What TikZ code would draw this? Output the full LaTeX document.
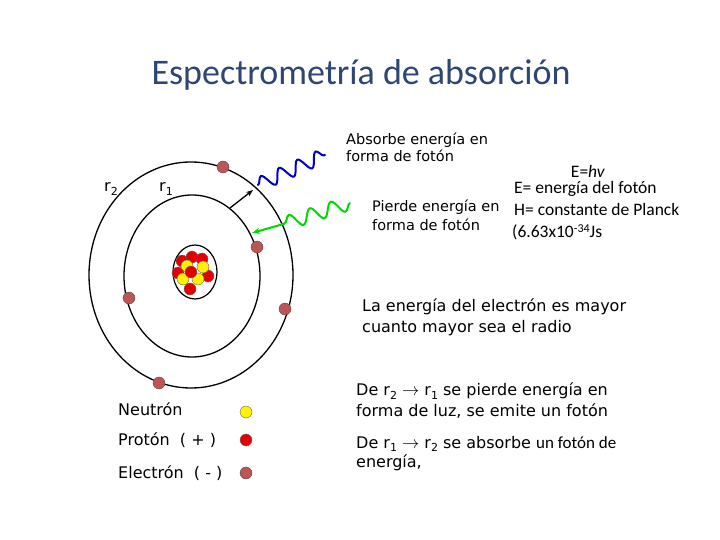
\documentclass[tikz,border=0pt]{standalone}
\usepackage{fontspec}
\setmainfont{Carlito}
\newfontfamily\comic{DejaVu Sans}
\usetikzlibrary{decorations.pathmorphing,arrows.meta}
\newcommand{\subs}[1]{\raisebox{-0.4ex}{\fontsize{11}{12}\selectfont #1}}
\begin{document}
\begin{tikzpicture}[x=1pt,y=-1pt,
  orb/.style={line width=1.3pt},
  elec/.style={circle,draw=black!70,fill={rgb,255:red,190;green,85;blue,85},minimum size=12pt,inner sep=0pt},
  prot/.style={circle,draw=black!60,fill=red!90!black,minimum size=12pt,inner sep=0pt},
  neut/.style={circle,draw=black!60,fill=yellow,minimum size=12pt,inner sep=0pt},
  ct/.style={font=\comic\fontsize{16}{18}\selectfont,anchor=west,inner sep=0pt},
  cal/.style={font=\fontsize{17.5}{20}\selectfont,anchor=west,inner sep=0pt}]
\useasboundingbox (0,0) rectangle (720,540);
\node[font=\fontsize{36}{42}\selectfont,text={rgb,255:red,45;green,70;blue,115}] (title) at (361,75) {Espectrometría de absorción};
% orbits
\draw[orb] (191,275) ellipse [x radius=102, y radius=113];
\draw[orb] (192,276) ellipse [x radius=68, y radius=81];
\draw[line width=1.2pt] (195,272) ellipse [x radius=22, y radius=27];
\node[prot] (p1) at (182,261) {};
\node[prot] (p2) at (202,259) {};
\node[prot] (p3) at (178,273) {};
\node[prot] (p5) at (208,276) {};
\node[prot] (p6) at (190,289) {};
\node[prot] (p7) at (192,257) {};
\node[neut] (n1) at (187,266) {};
\node[neut] (n2) at (203,267) {};
\node[neut] (n3) at (183,279) {};
\node[neut] (n4) at (198,279) {};
\node[prot] (p4) at (191,272) {};
% electrons
\node[elec] (e1) at (223,167) {};
\node[elec] (e2) at (257,247) {};
\node[elec] (e3) at (129,298) {};
\node[elec] (e4) at (285,309) {};
\node[elec] (e5) at (159,383) {};
\node[ct,anchor=center] (r2) at (111,189) {r\subs{2}};
\node[ct,anchor=center] (r1) at (166,189) {r\subs{1}};
% photons
\coordinate (bs) at (258,185); \coordinate (be) at (325,155);
\draw[blue!80!black,line width=2pt,line cap=round,decorate,decoration={snake,amplitude=7pt,segment length=20pt}] (bs) -- (be);
\coordinate (a1) at (230,208); \coordinate (a2) at (253,190);
\draw[line width=1.3pt,-{Stealth[length=7pt]}] (a1) -- (a2);
\coordinate (gs) at (350,203); \coordinate (ge) at (280,225); \coordinate (gt) at (252,233);
\draw[green!85!black,line width=2pt,line cap=round,decorate,decoration={snake,amplitude=7pt,segment length=22pt}] (gs) -- (ge);
\draw[green!85!black,line width=2pt,-{Stealth[length=8pt]}] (ge) -- (gt);
% texts
\node[ct,font=\comic\fontsize{14.5}{17}\selectfont,align=left,anchor=north west] (abs) at (346,133) {Absorbe energía en\\forma de fotón};
\node[cal,anchor=center] (eh) at (588,171) {E=\textit{hv}};
\node[cal] (t1) at (514,189) {E= energía del fotón};
\node[ct,font=\comic\fontsize{14.5}{19}\selectfont,align=left,anchor=north west] (pie) at (372,200) {Pierde energía en\\forma de fotón};
\node[cal] (t2) at (514,209) {H= constante de Planck};
\node[cal] (t3) at (512,232) {(6.63x10\raisebox{0.6ex}{\fontsize{12}{13}\selectfont -34}Js};
\node[ct] (la1) at (362,307) {La energía del electrón es mayor};
\node[ct] (la2) at (362,328) {cuanto mayor sea el radio};
\node[ct] (d1) at (356,391) {De r\subs{2} $\rightarrow$ r\subs{1} se pierde energía en};
\node[ct] (d2) at (356,411) {forma de luz, se emite un fotón};
\node[ct] (d3) at (356,444) {De r\subs{1} $\rightarrow$ r\subs{2} se absorbe {\normalfont\fontsize{17}{19}\selectfont un fotón de}};
\node[ct] (d4) at (356,463) {energía,};
% legend
\node[ct] (ln) at (118,409) {Neutrón};
\node[ct] (lp) at (118,440) {Protón\ \ (\ +\ )};
\node[ct] (le) at (118,473) {Electrón\ \ (\ -\ )};
\node[neut] (cn) at (246,412) {};
\node[prot] (cp) at (246,440) {};
\node[elec] (ce) at (246,473) {};
\end{tikzpicture}
\end{document}
